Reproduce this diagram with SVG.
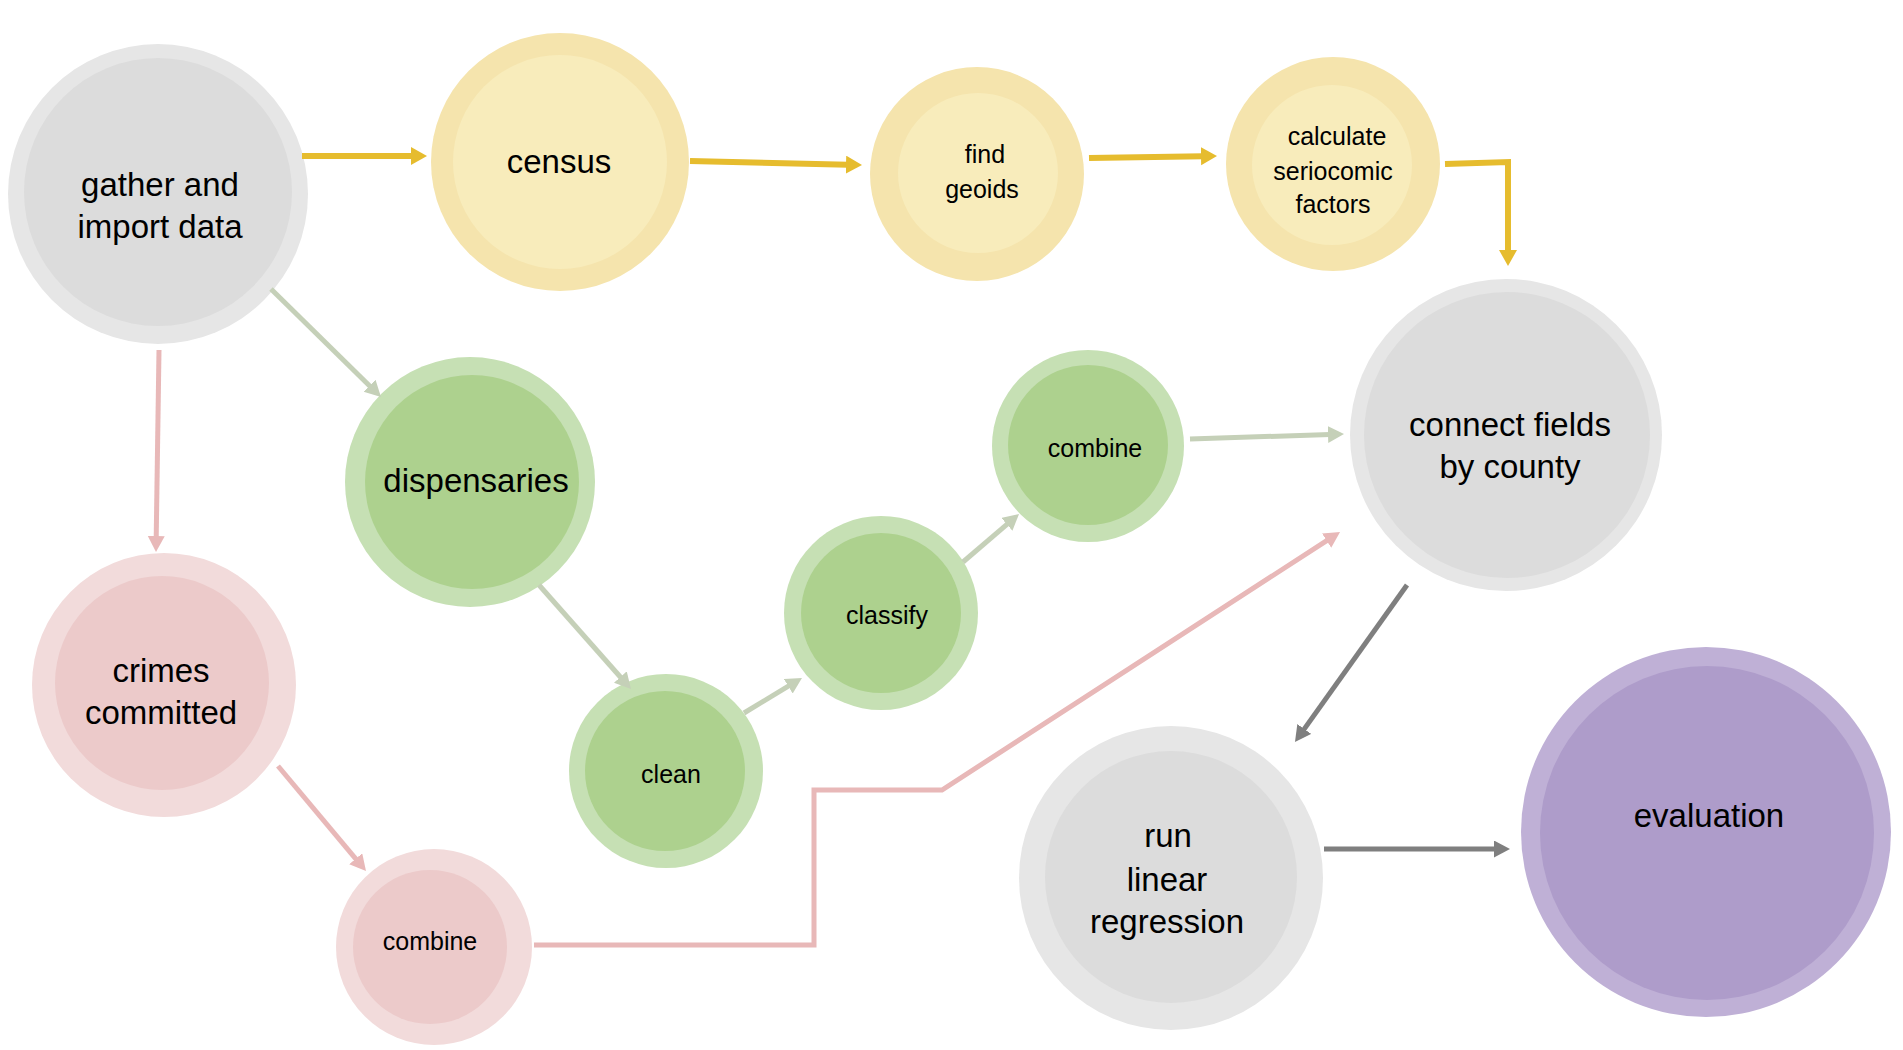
<svg xmlns="http://www.w3.org/2000/svg" width="1903" height="1050" viewBox="0 0 1903 1050">
<style>
  text { font-family: "Liberation Sans", Arial, sans-serif; fill: #000; text-anchor: middle; }
  .big { font-size: 33px; }
  .small { font-size: 25px; }
  .gray-o { fill: #E6E6E6; } .gray-i { fill: #DCDCDC; }
  .yel-o { fill: #F5E4AD; } .yel-i { fill: #F8ECBB; }
  .grn-o { fill: #C6E0B4; } .grn-i { fill: #ADD18E; }
  .pnk-o { fill: #F2DBDB; } .pnk-i { fill: #ECCACA; }
  .pur-o { fill: #BFB0D6; } .pur-i { fill: #AE9CCA; }
  .c { fill: none; stroke-linejoin: miter; }
  .cy { stroke: #E6BC2E; stroke-width: 6; marker-end: url(#ay); }
  .cg { stroke: #C5D0B8; stroke-width: 5; marker-end: url(#ag); }
  .cp { stroke: #E8B8B8; stroke-width: 5; marker-end: url(#ap); }
  .ck { stroke: #7F7F7F; stroke-width: 5; marker-end: url(#ak); }
</style>
<defs>
  <marker id="ay" markerUnits="userSpaceOnUse" markerWidth="20" markerHeight="20" refX="2" refY="9" orient="auto"><path d="M0,0 L16,9 L0,18 z" fill="#E6BC2E"/></marker>
  <marker id="ag" markerUnits="userSpaceOnUse" markerWidth="20" markerHeight="20" refX="2" refY="8.5" orient="auto"><path d="M0,0 L16,8.5 L0,17 z" fill="#C5D0B8"/></marker>
  <marker id="ap" markerUnits="userSpaceOnUse" markerWidth="20" markerHeight="20" refX="2" refY="8.5" orient="auto"><path d="M0,0 L16,8.5 L0,17 z" fill="#E8B8B8"/></marker>
  <marker id="ak" markerUnits="userSpaceOnUse" markerWidth="20" markerHeight="20" refX="2" refY="8.5" orient="auto"><path d="M0,0 L16,8.5 L0,17 z" fill="#7F7F7F"/></marker>
</defs>
<rect width="1903" height="1050" fill="#FFFFFF"/>

<g id="node-gather">
  <circle class="gray-o" cx="158" cy="194" r="150"/>
  <circle class="gray-i" cx="158" cy="192" r="134"/>
  <text class="big" x="160" y="196">gather and</text>
  <text class="big" x="160" y="238">import data</text>
</g>
<g id="node-census">
  <circle class="yel-o" cx="560" cy="162" r="129"/>
  <circle class="yel-i" cx="560" cy="162" r="107"/>
  <text class="big" x="559" y="173">census</text>
</g>
<g id="node-geoids">
  <circle class="yel-o" cx="977" cy="174" r="107"/>
  <circle class="yel-i" cx="978" cy="173" r="80"/>
  <text class="small" x="985" y="163">find</text>
  <text class="small" x="982" y="198">geoids</text>
</g>
<g id="node-calculate">
  <circle class="yel-o" cx="1333" cy="164" r="107"/>
  <circle class="yel-i" cx="1332" cy="165" r="80"/>
  <text class="small" x="1337" y="145">calculate</text>
  <text class="small" x="1333" y="180">seriocomic</text>
  <text class="small" x="1333" y="213">factors</text>
</g>
<g id="node-connect">
  <circle class="gray-o" cx="1506" cy="435" r="156"/>
  <circle class="gray-i" cx="1507" cy="435" r="143"/>
  <text class="big" x="1510" y="436">connect fields</text>
  <text class="big" x="1510" y="478">by county</text>
</g>
<g id="node-dispensaries">
  <circle class="grn-o" cx="470" cy="482" r="125"/>
  <circle class="grn-i" cx="472" cy="482" r="107"/>
  <text class="big" x="476" y="492">dispensaries</text>
</g>
<g id="node-combine-green">
  <circle class="grn-o" cx="1088" cy="446" r="96"/>
  <circle class="grn-i" cx="1088" cy="445" r="80"/>
  <text class="small" x="1095" y="457">combine</text>
</g>
<g id="node-classify">
  <circle class="grn-o" cx="881" cy="613" r="97"/>
  <circle class="grn-i" cx="881" cy="613" r="80"/>
  <text class="small" x="887" y="624">classify</text>
</g>
<g id="node-clean">
  <circle class="grn-o" cx="666" cy="771" r="97"/>
  <circle class="grn-i" cx="665" cy="771" r="80"/>
  <text class="small" x="671" y="783">clean</text>
</g>
<g id="node-crimes">
  <circle class="pnk-o" cx="164" cy="685" r="132"/>
  <circle class="pnk-i" cx="162" cy="683" r="107"/>
  <text class="big" x="161" y="682">crimes</text>
  <text class="big" x="161" y="724">committed</text>
</g>
<g id="node-combine-pink">
  <circle class="pnk-o" cx="434" cy="947" r="98"/>
  <circle class="pnk-i" cx="430" cy="947" r="77"/>
  <text class="small" x="430" y="950">combine</text>
</g>
<g id="node-regression">
  <circle class="gray-o" cx="1171" cy="878" r="152"/>
  <circle class="gray-i" cx="1171" cy="877" r="126"/>
  <text class="big" x="1168" y="847">run</text>
  <text class="big" x="1167" y="891">linear</text>
  <text class="big" x="1167" y="933">regression</text>
</g>
<g id="node-evaluation">
  <circle class="pur-o" cx="1706" cy="832" r="185"/>
  <circle class="pur-i" cx="1707" cy="833" r="167"/>
  <text class="big" x="1709" y="827">evaluation</text>
</g>

<g id="connectors">
  <path class="c cy" d="M302,156 L413,156"/>
  <path class="c cy" d="M690,161 L848,164.7"/>
  <path class="c cy" d="M1089,158 L1203,156.2"/>
  <path class="c cy" d="M1445,164 L1508,162 L1508,252"/>
  <path class="c cg" d="M271,289 L371,387.2"/>
  <path class="c cg" d="M539,585 L621.7,678.5"/>
  <path class="c cg" d="M744,713 L790,685.2"/>
  <path class="c cg" d="M963,562 L1008.4,523.1"/>
  <path class="c cg" d="M1190,439 L1330,434.5"/>
  <path class="c cp" d="M159,350 L156.2,538"/>
  <path class="c cp" d="M278,766 L357,860.3"/>
  <path class="c cp" d="M534,945 L814,945 L814,790 L942,790 L1328.3,539.6"/>
  <path class="c ck" d="M1407,585 L1303.1,730.6"/>
  <path class="c ck" d="M1324,849 L1496,849"/>
</g>
</svg>
